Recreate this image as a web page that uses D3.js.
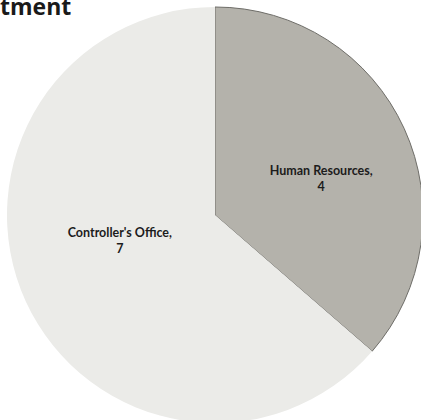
<!DOCTYPE html>
<html>
<head>
<meta charset="utf-8">
<script src="https://cdn.jsdelivr.net/npm/d3@7"></script>
<style>
  html, body { margin: 0; padding: 0; background: #fff; overflow: hidden; }
</style>
</head>
<body>
<div id="chart"></div>
<script>
const departments = ["Human Resources", "Controller's Office"];
const employees = [4, 7];
const sliceColors = ["#b4b2ab", "#ebebe8"];

const width = 421;
const height = 420;
const cx = 215;
const cy = 215;
const radius = 208;

const data = departments.map((d, i) => ({ name: d, value: employees[i] }));

const svg = d3.select("#chart")
  .append("svg")
  .attr("width", width)
  .attr("height", height);

//title, only its tail is visible in the crop
svg.append("text")
   .attr("x", 0)
   .attr("y", 15)
   .attr("font-family", "'Open Sans', Lato, sans-serif")
   .attr("font-weight", "bold")
   .attr("font-size", 23)
   .attr("fill", "#1a1a1a")
   .text("tment");

const pie = d3.pie()
              .value(d => d.value)
              .sort(null);

const arc = d3.arc()
              .innerRadius(0)
              .outerRadius(radius);

const labelArc = d3.arc()
                   .innerRadius(radius * 0.54)
                   .outerRadius(radius * 0.54);

// excel "best fit" nudges
const labelNudge = { "Human Resources": [4, 6.5], "Controller's Office": [7, -24.5] };

const g = svg.append("g")
             .attr("transform", `translate(${cx}, ${cy})`);

const arcs = pie(data);

g.selectAll("path")
 .data(arcs)
 .enter()
 .append("path")
 .attr("d", arc)
 .attr("fill", (d, i) => sliceColors[i])
 .attr("stroke", (d, i) => i === 0 ? "#6e6d68" : "none")
 .attr("stroke-width", 1);

const labels = g.selectAll(".label")
  .data(arcs)
  .enter()
  .append("text")
  .attr("class", "label")
  .attr("transform", d => {
    const [x, y] = labelArc.centroid(d);
    const [nx, ny] = labelNudge[d.data.name];
    return `translate(${x + nx}, ${y + ny})`;
  })
  .attr("text-anchor", "middle")
  .attr("font-family", "Lato, 'Open Sans', sans-serif")
  .attr("font-weight", "bold")
  .attr("font-size", 12.5)
  .attr("fill", "#1c1c1c");

labels.append("tspan")
      .attr("x", 0)
      .attr("dy", 0)
      .text(d => d.data.name + ",");

labels.append("tspan")
      .attr("x", 0)
      .attr("dy", 16)
      .text(d => d.data.value);
</script>
</body>
</html>
